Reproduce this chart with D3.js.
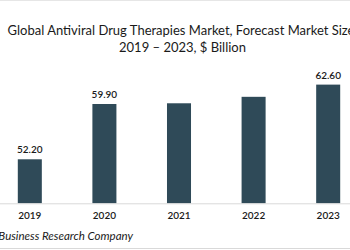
<!DOCTYPE html>
<html>
<head>
<meta charset="utf-8">
<script src="https://cdn.jsdelivr.net/npm/d3@7"></script>
<style>
  body { margin: 0; background: #fff; }
  svg { display: block; font-family: Lato, "Open Sans", sans-serif; }
</style>
</head>
<body>
<div id="vis"></div>
<script>
// chart data
const years = ['2019', '2020', '2021', '2022', '2023'];
const values = [52.2, 59.9, 60.0, 60.9, 62.6];
const labelledYears = ['2019', '2020', '2023'];
const titleLines = ['Global Antiviral Drug Therapies Market, Forecast Market Size,', '2019 \u2013 2023, $ Billion'];
const sourceText = 'The Business Research Company';

const W = 350, H = 250;
const baseY = 203.3;
const barColor = '#2f4a58';

const svg = d3.select('#vis').append('svg')
  .attr('width', W).attr('height', H);

const x = d3.scaleBand()
  .domain(years)
  .range([4, 354])
  .paddingInner(0.678)
  .paddingOuter(0.185);

// value axis does not start at zero in the original
const y = d3.scaleLinear()
  .domain([46.07, 64])
  .range([baseY, baseY - (64 - 46.07) * 7.18]);

const data = years.map((yr, i) => ({ year: yr, value: values[i] }));

// frame lines
svg.append('line').attr('x1', 0).attr('x2', W).attr('y1', 0.5).attr('y2', 0.5)
  .attr('stroke', '#e6e6e6');
svg.append('line').attr('x1', 0).attr('x2', W).attr('y1', 248.5).attr('y2', 248.5)
  .attr('stroke', '#d9d9d9');

// title
svg.selectAll('.title').data(titleLines).enter().append('text')
  .attr('class', 'title')
  .attr('x', 182.5)
  .attr('y', (d, i) => 35 + i * 17)
  .attr('text-anchor', 'middle')
  .attr('font-size', 13)
  .attr('fill', '#1a1a1a')
  .text(d => d);

// bars
svg.selectAll('.bar').data(data).enter().append('rect')
  .attr('class', 'bar')
  .attr('x', d => x(d.year))
  .attr('width', x.bandwidth())
  .attr('y', d => y(d.value))
  .attr('height', d => baseY - y(d.value))
  .attr('fill', barColor);

// baseline + year labels
const gX = svg.append('g').attr('transform', `translate(0,${baseY})`)
  .call(d3.axisBottom(x).tickSize(0).tickPadding(9));
gX.select('.domain').attr('stroke', '#d9d9d9').attr('d', `M0,0.5H${W}`);
gX.selectAll('text').attr('font-family', 'Lato, "Open Sans", sans-serif')
  .attr('font-size', 10).attr('fill', '#1a1a1a').attr('font-weight', 600);

// value labels
svg.selectAll('.vlab').data(data.filter(d => labelledYears.includes(d.year))).enter().append('text')
  .attr('class', 'vlab')
  .attr('x', d => x(d.year) + x.bandwidth() / 2)
  .attr('y', d => y(d.value) - 6)
  .attr('text-anchor', 'middle')
  .attr('font-size', 10)
  .attr('font-weight', 600)
  .attr('fill', '#1a1a1a')
  .text(d => d.value.toFixed(2));

// source (clipped at the left edge, as in the original)
svg.append('text')
  .attr('x', 133).attr('y', 240)
  .attr('text-anchor', 'end')
  .attr('font-size', 11.5)
  .attr('font-style', 'italic')
  .attr('fill', '#1a1a1a')
  .text(sourceText);
</script>
</body>
</html>
